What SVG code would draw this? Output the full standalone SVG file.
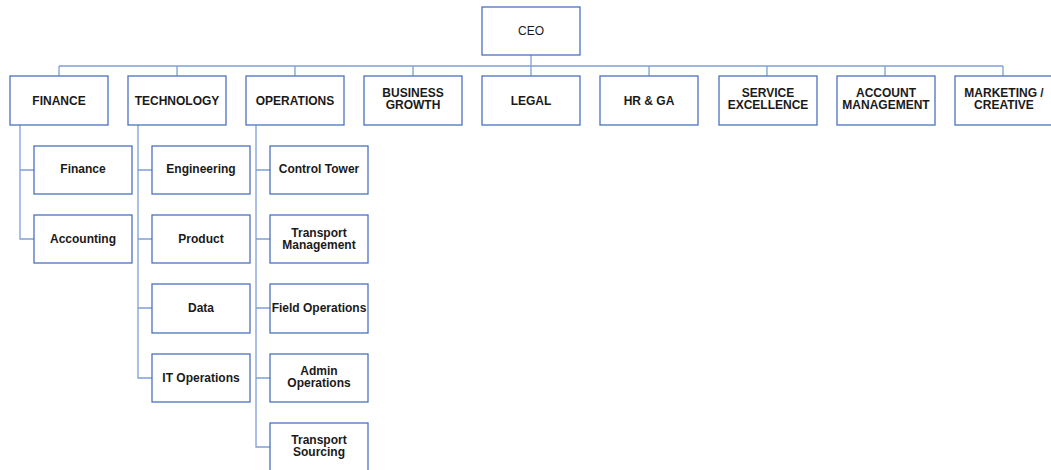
<svg xmlns="http://www.w3.org/2000/svg" width="1051" height="470" viewBox="0 0 1051 470">
<style>
.box{fill:#fff;stroke:#4a72c0;stroke-width:1.3}
.c{fill:none;stroke:#7f9fd6;stroke-width:1.3}
text{font-family:"Liberation Sans",Arial,sans-serif;font-size:12px;font-weight:bold;fill:#1a1a1a;text-anchor:middle;dominant-baseline:central}
.n{font-weight:normal}
</style>
<rect width="1051" height="470" fill="#fff"/>
<g id="connectors">
<path class="c" d="M531 55V66M59 66H1003M59 66V76M177 66V76M295 66V76M413 66V76M531 66V76M649 66V76M767 66V76M885 66V76M1003 66V76"/>
<path class="c" d="M20 125V239H34M20 170H34"/>
<path class="c" d="M138 125V378H152M138 170H152M138 239H152M138 308H152"/>
<path class="c" d="M256 125V447H270M256 170H270M256 239H270M256 308H270M256 378H270"/>
</g>
<g id="ceo"><rect class="box" x="482" y="7" width="98" height="48"/><text class="n" x="531" y="31">CEO</text></g>
<g id="finance"><rect class="box" x="10" y="76" width="98" height="49"/><text x="59" y="100.5">FINANCE</text></g>
<g id="technology"><rect class="box" x="128" y="76" width="98" height="49"/><text x="177" y="100.5">TECHNOLOGY</text></g>
<g id="operations"><rect class="box" x="246" y="76" width="98" height="49"/><text x="295" y="100.5">OPERATIONS</text></g>
<g id="business-growth"><rect class="box" x="364" y="76" width="98" height="49"/><text x="413" y="93">BUSINESS</text><text x="413" y="105">GROWTH</text></g>
<g id="legal"><rect class="box" x="482" y="76" width="98" height="49"/><text x="531" y="100.5">LEGAL</text></g>
<g id="hr-ga"><rect class="box" x="600" y="76" width="98" height="49"/><text x="649" y="100.5">HR &amp; GA</text></g>
<g id="service-excellence"><rect class="box" x="719" y="76" width="98" height="49"/><text x="768" y="93">SERVICE</text><text x="768" y="105">EXCELLENCE</text></g>
<g id="account-management"><rect class="box" x="837" y="76" width="98" height="49"/><text x="886" y="93">ACCOUNT</text><text x="886" y="105">MANAGEMENT</text></g>
<g id="marketing-creative"><rect class="box" x="955" y="76" width="98" height="49"/><text x="1004" y="93">MARKETING /</text><text x="1004" y="105">CREATIVE</text></g>
<g id="finance-sub"><rect class="box" x="34" y="146" width="98" height="48"/><text x="83" y="169">Finance</text></g>
<g id="accounting"><rect class="box" x="34" y="215" width="98" height="48"/><text x="83" y="238.5">Accounting</text></g>
<g id="engineering"><rect class="box" x="152" y="146" width="98" height="48"/><text x="201" y="169">Engineering</text></g>
<g id="product"><rect class="box" x="152" y="215" width="98" height="48"/><text x="201" y="238.5">Product</text></g>
<g id="data"><rect class="box" x="152" y="284" width="98" height="49"/><text x="201" y="308">Data</text></g>
<g id="it-operations"><rect class="box" x="152" y="354" width="98" height="48"/><text x="201" y="377.5">IT Operations</text></g>
<g id="control-tower"><rect class="box" x="270" y="146" width="98" height="48"/><text x="319" y="169">Control Tower</text></g>
<g id="transport-management"><rect class="box" x="270" y="215" width="98" height="48"/><text x="319" y="232.5">Transport</text><text x="319" y="244.5">Management</text></g>
<g id="field-operations"><rect class="box" x="270" y="284" width="98" height="49"/><text x="319" y="308">Field Operations</text></g>
<g id="admin-operations"><rect class="box" x="270" y="354" width="98" height="48"/><text x="319" y="371">Admin</text><text x="319" y="383">Operations</text></g>
<g id="transport-sourcing"><rect class="box" x="270" y="423" width="98" height="49"/><text x="319" y="440">Transport</text><text x="319" y="452">Sourcing</text></g>
</svg>
